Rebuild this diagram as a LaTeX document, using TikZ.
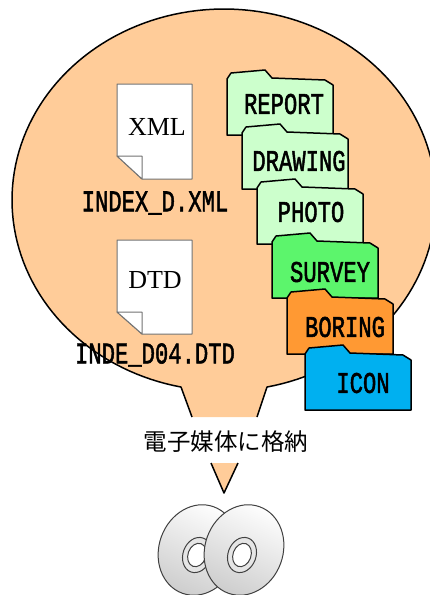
\documentclass[tikz,border=0pt]{standalone}
\usepackage{fontspec}
\setmainfont{Liberation Serif}
\newfontfamily\cjk{Noto Sans CJK JP}
\newfontfamily\labelfont{Liberation Mono}[FakeBold=2]
\usetikzlibrary{positioning}
\definecolor{bubblefill}{HTML}{FFCC99}
\definecolor{palegreen}{HTML}{CCFFCC}
\definecolor{midgreen}{HTML}{5CF56C}
\definecolor{orangefill}{HTML}{FF9933}
\definecolor{bluefill}{HTML}{00B0F0}
\tikzset{
	outline/.style={draw=black,line width=1.5pt,line join=round},
	folder/.style={draw=black,line width=1.5pt,line join=round},
	foldertext/.style={font=\labelfont\fontsize{30}{30}\selectfont,inner sep=0pt,xscale=0.74},
	doc/.style={draw=black!55,fill=white,line width=1pt,line join=round},
	doctext/.style={font=\fontsize{26}{26}\selectfont,inner sep=0pt},
	disc/.style={draw=black!75,line width=1pt,left color=white,right color=black!20,shading angle=-25},
	hubring/.style={draw=black!75,fill=black!10,line width=1pt},
	hubhole/.style={draw=black!75,fill=white,line width=1pt},
}
% one folder, with its upper left corner at the given point
\newcommand{\folderpath}[2]{
	\draw[folder,fill=#2,shift={#1}]
		(0,63) -- (0,7) -- (4,1) -- (38,-2) -- (45,6) -- (98,8) -- (106,13) -- (106,63) -- cycle;
}
\begin{document}
\begin{tikzpicture}[x=1pt,y=-1pt]
	\useasboundingbox (0,0) rectangle (430,595);
	% bubble
	\fill[bubblefill] (192,417) -- plot[domain=101.7:438.3,samples=160] ({224+212*cos(\x)},{200+191*sin(\x)}) -- (257,417) -- cycle;
	\draw[outline] (192,417) -- plot[domain=101.7:438.3,samples=160] ({224+212*cos(\x)},{200+191*sin(\x)}) -- (257,417);
	\coordinate (tipl) at (211,463);
	\coordinate (tipr) at (238,463);
	\coordinate (tipb) at (224,493);
	\fill[bubblefill] (tipl) -- (tipr) -- (tipb) -- cycle;
	\draw[outline] (tipl) -- (tipb) -- (tipr);
	% documents
	\draw[doc] (117,84) -- (192,84) -- (192,179) -- (142,179) -- (117,156) -- cycle;
	\draw[doc] (117,156) -- (142,156) -- (142,179) -- cycle;
	\node[doctext] (xml) at (157,127) {XML};
	\draw[doc] (117,240) -- (192,240) -- (192,334) -- (142,334) -- (117,312) -- cycle;
	\draw[doc] (117,312) -- (142,312) -- (142,334) -- cycle;
	\node[doctext] (dtd) at (155,280) {DTD};
	\node[foldertext] (indexd) at (155,203) {INDEX\_D.XML};
	\node[foldertext] (inded) at (155,355) {INDE\_D04.DTD};
	% folders
	\folderpath{(227,72)}{palegreen}
	\node[foldertext] (report) at (284,104) {REPORT};
	\folderpath{(242,126)}{palegreen}
	\node[foldertext] (drawing) at (299,161) {DRAWING};
	\folderpath{(257,181)}{palegreen}
	\node[foldertext] (photo) at (311,212) {PHOTO};
	\folderpath{(272,235)}{midgreen}
	\node[foldertext] (survey) at (330,272) {SURVEY};
	\folderpath{(287,291)}{orangefill}
	\node[foldertext] (boring) at (345,327) {BORING};
	\folderpath{(305,347)}{bluefill}
	\node[foldertext] (icon) at (363,383) {ICON};
	% caption
	\node[font=\cjk\fontsize{23.5}{23.5}\selectfont,inner sep=0pt] (store) at (226,442) {電子媒体に格納};
	% discs
	\draw[disc,rotate around={-20:(198,550)}] (198,550) ellipse (39 and 46);
	\draw[hubring,rotate around={-20:(197,555)}] (197,555) ellipse (14 and 18);
	\draw[hubhole,rotate around={-20:(197,555)}] (197,555) ellipse (9 and 12);
	\draw[disc,rotate around={-20:(244,550)}] (244,550) ellipse (39 and 46);
	\draw[hubring,rotate around={-20:(242,555)}] (242,555) ellipse (14 and 18);
	\draw[hubhole,rotate around={-20:(242,555)}] (242,555) ellipse (9 and 12);
\end{tikzpicture}
\end{document}
